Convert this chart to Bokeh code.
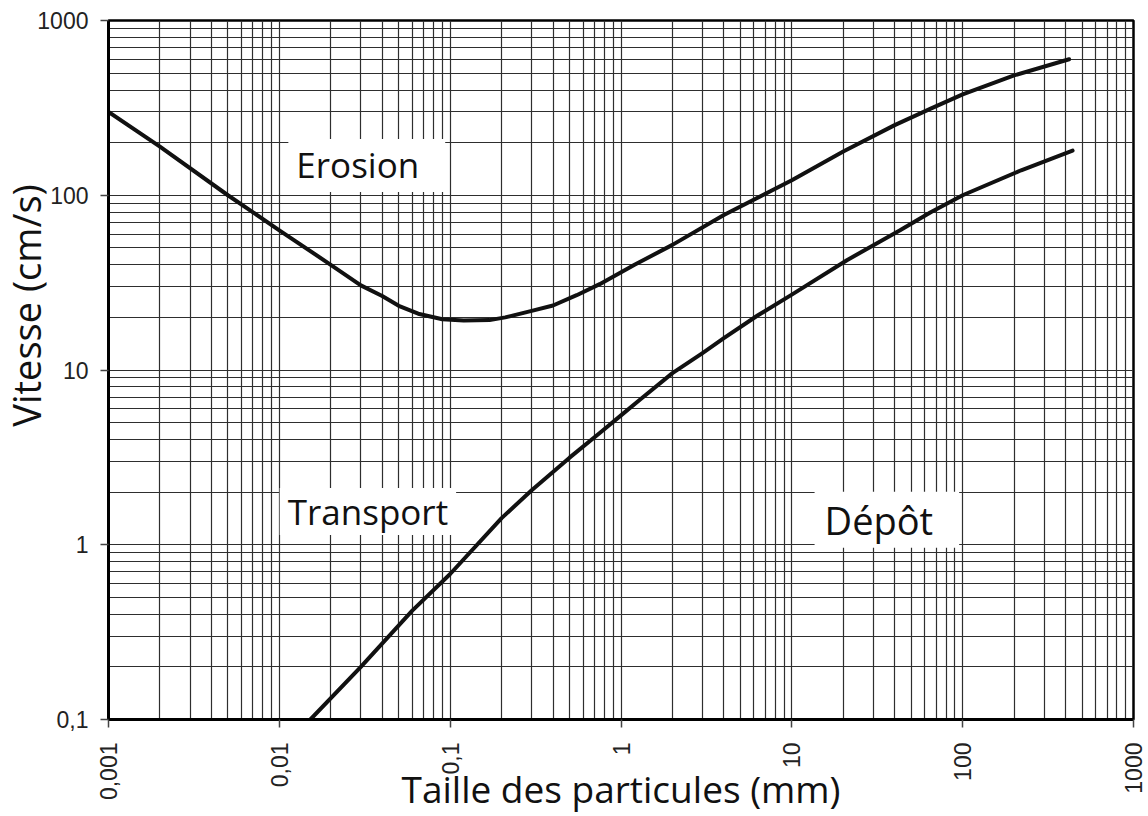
import math
from bokeh.plotting import figure
from bokeh.models import Range1d, FixedTicker, Label
from bokeh.embed import file_html
from bokeh.resources import INLINE

# ---- data ----
x_tick_values = [0.001, 0.01, 0.1, 1, 10, 100, 1000]
x_tick_labels = ["0,001", "0,01", "0,1", "1", "10", "100", "1000"]
y_tick_values = [0.1, 1, 10, 100, 1000]
y_tick_labels = ["0,1", "1", "10", "100", "1000"]

erosion_size = [0.001, 0.002, 0.005, 0.01, 0.02, 0.03, 0.04, 0.05, 0.065, 0.09,
                0.12, 0.17, 0.21, 0.3, 0.4, 0.55, 0.75, 1.2, 2, 4, 10, 20, 40,
                65, 100, 200, 420]
erosion_speed = [300, 190, 100, 63, 40, 30.5, 26.5, 23.3, 21, 19.5,
                 19.2, 19.3, 20, 21.8, 23.4, 26.8, 31, 40, 52, 77, 122, 178, 252,
                 313, 378, 485, 600]

deposit_size = [0.0152, 0.03, 0.06, 0.1, 0.2, 0.3, 0.5, 0.76, 1.0, 1.3, 2, 3, 4,
                6.3, 10, 21, 43, 65, 100, 220, 440]
deposit_speed = [0.1, 0.2, 0.42, 0.68, 1.42, 2.05, 3.15, 4.4, 5.5, 6.8, 9.6, 12.5, 15.2,
                 20.5, 27, 42.5, 63, 80, 100, 139, 180]

region_names = ["Erosion", "Transport", "Dépôt"]
region_x = [0.0325, 0.033, 36.0]
region_y = [148, 1.55, 1.39]

x_title = "Taille des particules (mm)"
y_title = "Vitesse (cm/s)"
x_title_pos = (1.0, 0.1)
y_title_pos = (0.001, 23.4)

# ---- figure ----
p = figure(frame_width=1025, frame_height=699, x_axis_type="log", y_axis_type="log",
           x_range=Range1d(0.001, 1000), y_range=Range1d(0.1, 1000),
           output_backend="svg", toolbar_location=None,
           min_border_left=108, min_border_right=13, min_border_top=20,
           min_border_bottom=95)
p.background_fill_color = "white"
p.border_fill_color = "white"
p.outline_line_color = "black"
p.outline_line_width = 2.5

x_minor = [m * 10.0 ** e for e in range(-3, 3) for m in range(2, 10)]
y_minor = [m * 10.0 ** e for e in range(-1, 3) for m in range(2, 10)]

p.xaxis.ticker = FixedTicker(ticks=x_tick_values, minor_ticks=x_minor)
p.yaxis.ticker = FixedTicker(ticks=y_tick_values, minor_ticks=y_minor)
p.xaxis.major_label_overrides = dict(zip(x_tick_values, x_tick_labels))
p.yaxis.major_label_overrides = dict(zip(y_tick_values, y_tick_labels))
p.xaxis.major_label_orientation = math.pi / 2

for ax in (p.xaxis, p.yaxis):
    ax.major_label_text_font = "Liberation Sans"
    ax.major_label_text_font_size = "23px"
    ax.major_label_text_color = "#222222"
    ax.major_tick_out = 8
    ax.major_tick_in = 0
    ax.minor_tick_out = 0
    ax.minor_tick_in = 0
    ax.major_tick_line_width = 1.5
    ax.major_tick_line_color = "#444444"
    ax.axis_line_width = 3
    ax.axis_line_color = "black"
p.xaxis.major_label_standoff = 15
p.yaxis.major_label_standoff = 12

for g in (p.xgrid, p.ygrid):
    g.grid_line_color = "#2e2e2e"
    g.grid_line_width = 1.2
    g.minor_grid_line_color = "#2e2e2e"
    g.minor_grid_line_width = 1.2

# ---- curves ----
p.line(erosion_size, erosion_speed, line_color="#111111", line_width=4,
       line_join="round", line_cap="round")
p.line(deposit_size, deposit_speed, line_color="#111111", line_width=4,
       line_join="round", line_cap="round")

# ---- region labels ----
label_styles = [dict(size="35px", pad=dict(left=8, right=26, top=2, bottom=4)),
                dict(size="35px", pad=dict(left=8, right=8, top=0, bottom=0)),
                dict(size="38px", pad=dict(left=10, right=26, top=2, bottom=2))]
for name, xv, yv, st in zip(region_names, region_x, region_y, label_styles):
    p.add_layout(Label(x=xv, y=yv, text=name, text_font="Open Sans",
                       text_font_size=st["size"], text_color="#111111",
                       text_align="center", text_baseline="middle",
                       background_fill_color="white", padding=st["pad"]))

# ---- axis titles (in a side panel so they are not clipped to the frame) ----
p.add_layout(Label(x=x_title_pos[0], y=x_title_pos[1], y_offset=-69,
                   text=x_title, text_font="Open Sans", text_font_size="37px",
                   text_color="#111111", text_align="center",
                   text_baseline="middle"), "below")
p.add_layout(Label(x=y_title_pos[0], y=y_title_pos[1], x_offset=-83,
                   angle=math.pi / 2, text=y_title, text_font="Open Sans",
                   text_font_size="38px", text_color="#111111",
                   text_align="center", text_baseline="middle"), "below")

open("out.html", "w").write(file_html(p, INLINE))
